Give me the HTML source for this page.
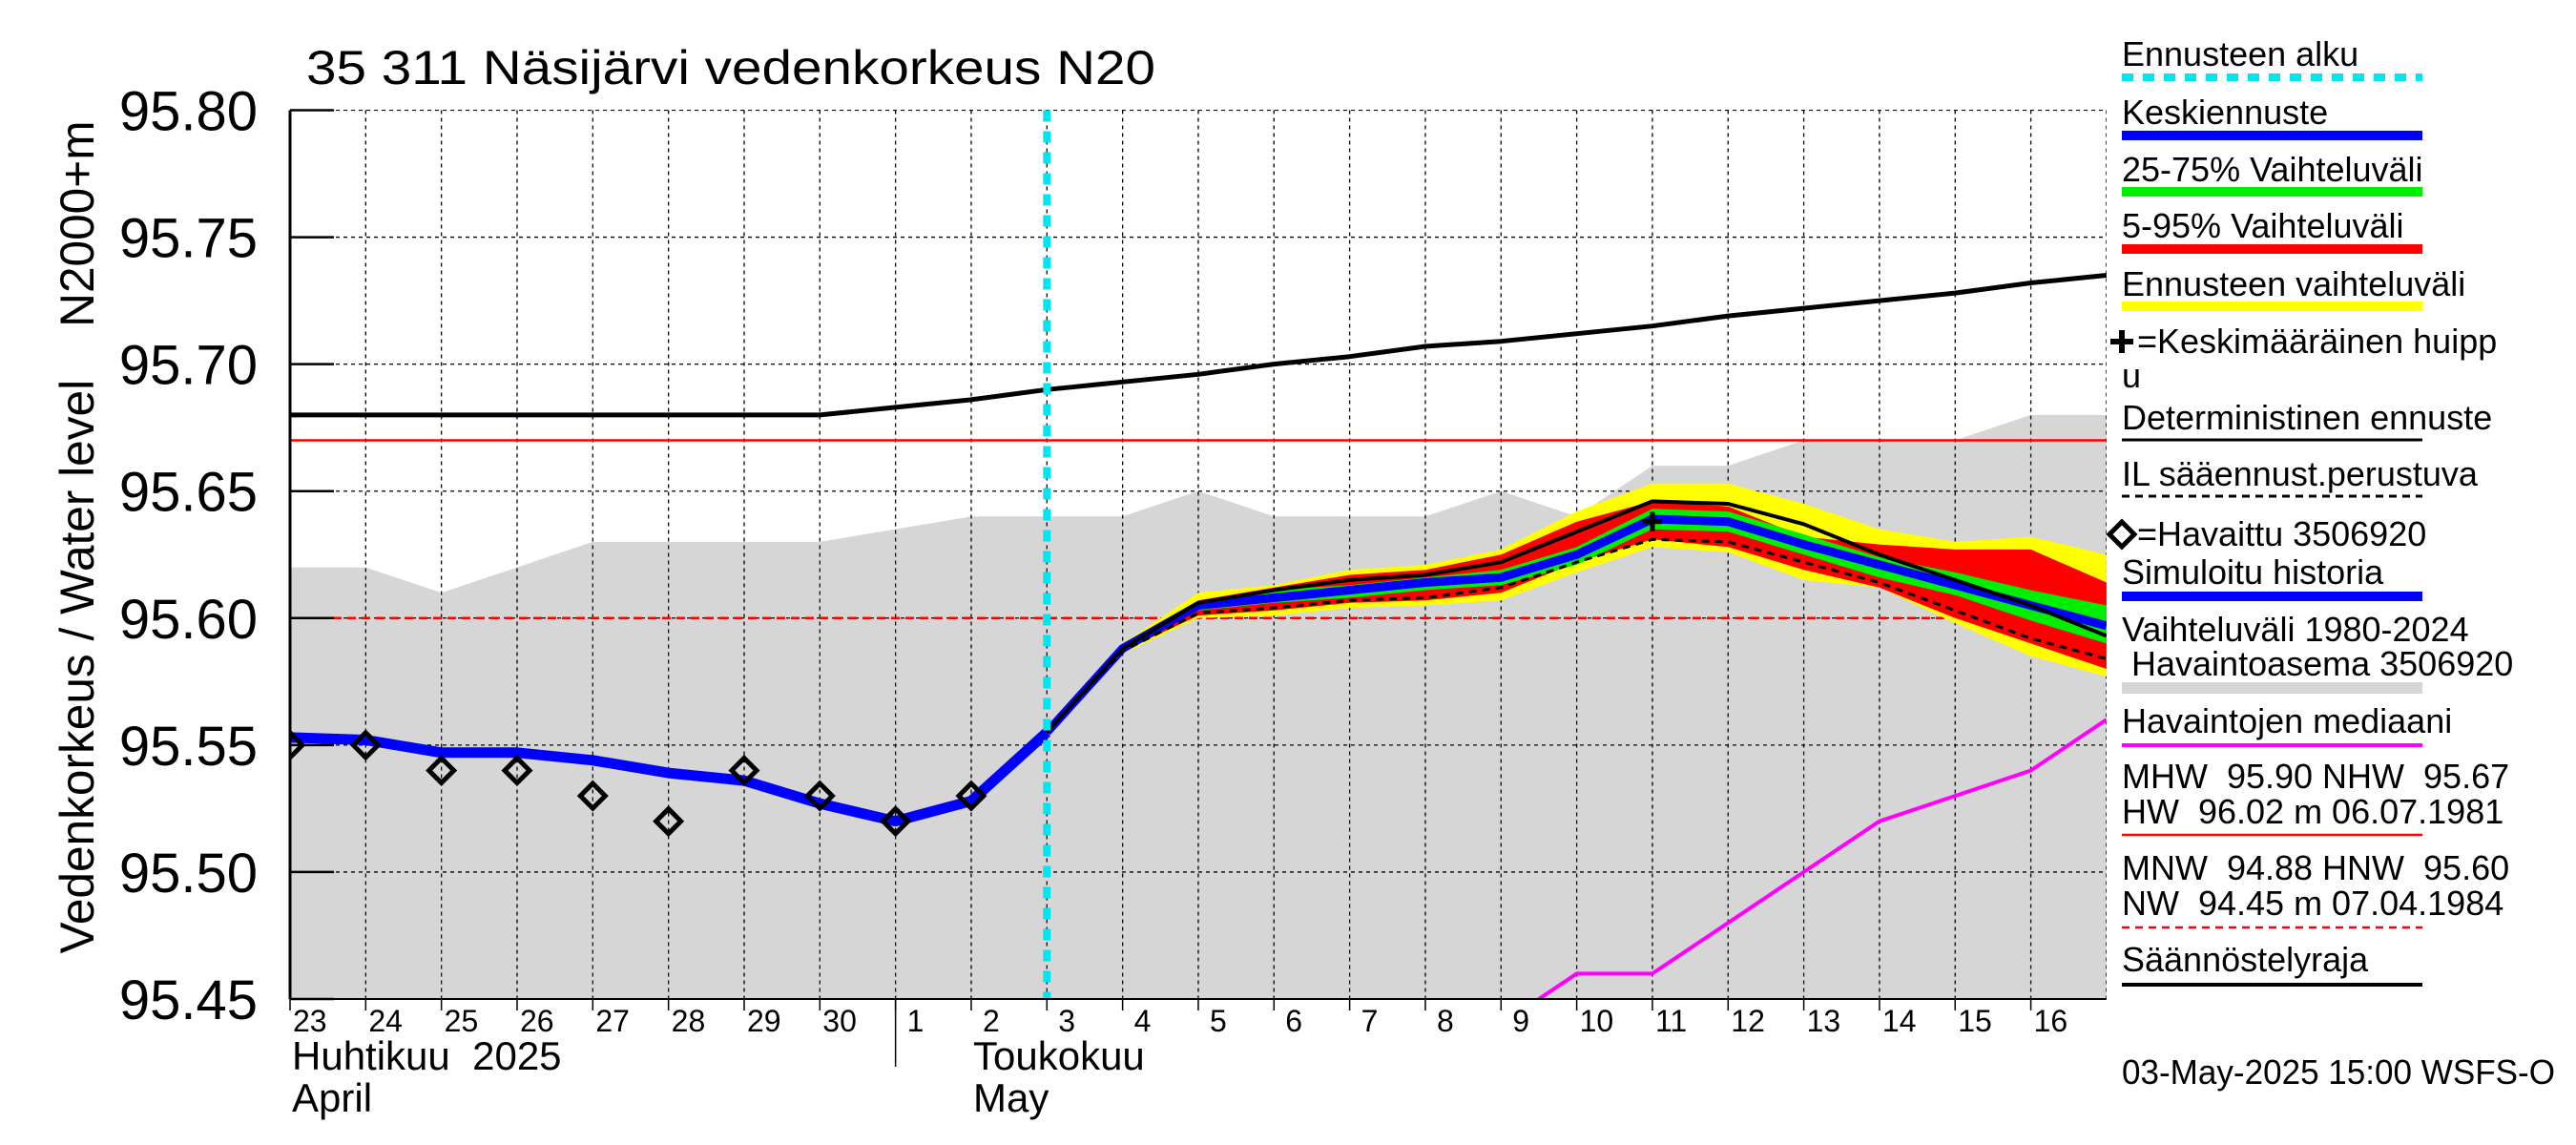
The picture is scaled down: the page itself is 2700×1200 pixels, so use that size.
<!DOCTYPE html>
<html><head><meta charset="utf-8"><style>
html,body{margin:0;padding:0;background:#fff;}
svg{display:block;font-family:"Liberation Sans",Arial,sans-serif;}
text{white-space:pre;}
</style></head><body>
<svg id="chart" width="2700" height="1200" viewBox="0 0 2700 1200" xmlns="http://www.w3.org/2000/svg">
<defs><clipPath id="plotclip"><rect x="304" y="115" width="1904" height="932"/></clipPath></defs>
<rect x="0" y="0" width="2700" height="1200" fill="#fff"/>
<g id="plot" clip-path="url(#plotclip)"></g>
<g id="axes"></g>
<g id="legend"></g>
</svg>
<script>
// ---- data ----
const dayLabels=["23","24","25","26","27","28","29","30","1","2","3","4","5","6","7","8","9","10","11","12","13","14","15","16"];
const yTicks=[95.45,95.50,95.55,95.60,95.65,95.70,95.75,95.80];
const yTickLabels=["95.45","95.50","95.55","95.60","95.65","95.70","95.75","95.80"];
const regLimit=[95.68,95.68,95.68,95.68,95.68,95.68,95.68,95.68,95.683,95.686,95.690,95.693,95.696,95.700,95.703,95.707,95.709,95.712,95.715,95.719,95.722,95.725,95.728,95.732,95.735];
const histMax=[95.62,95.62,95.61,95.62,95.63,95.63,95.63,95.63,95.635,95.64,95.64,95.64,95.65,95.64,95.64,95.64,95.65,95.64,95.66,95.66,95.67,95.67,95.67,95.68,95.68];
const obsMedian=[95.44,95.46,95.46,95.48,95.50,95.52,95.53,95.54,95.56];
const simHist=[95.553,95.552,95.547,95.547,95.544,95.539,95.536,95.527,95.520,95.528,95.555];
const observed=[95.55,95.55,95.54,95.54,95.53,95.52,95.54,95.53,95.52,95.53];
const fcMax=[95.555,95.590,95.610,95.613,95.619,95.621,95.627,95.642,95.653,95.653,95.645,95.635,95.630,95.632,95.625];
const fcMin=[95.555,95.586,95.600,95.601,95.604,95.605,95.607,95.618,95.628,95.626,95.615,95.612,95.598,95.585,95.577];
const p95=[95.555,95.589,95.607,95.612,95.617,95.619,95.625,95.638,95.646,95.644,95.632,95.629,95.627,95.627,95.614];
const p5=[95.555,95.587,95.601,95.603,95.606,95.607,95.610,95.622,95.631,95.628,95.619,95.612,95.600,95.590,95.580];
const p75=[95.555,95.589,95.606,95.611,95.613,95.616,95.619,95.628,95.643,95.642,95.633,95.624,95.618,95.611,95.605];
const p25=[95.555,95.587,95.603,95.606,95.608,95.611,95.613,95.621,95.635,95.634,95.625,95.616,95.609,95.599,95.590];
const fcMedian=[95.555,95.588,95.605,95.608,95.611,95.614,95.616,95.625,95.639,95.638,95.629,95.621,95.613,95.605,95.597];
const determ=[95.555,95.588,95.606,95.611,95.615,95.617,95.622,95.634,95.646,95.645,95.637,95.625,95.615,95.605,95.593];
const ilFc=[95.555,95.587,95.602,95.604,95.607,95.608,95.612,95.622,95.631,95.630,95.622,95.614,95.603,95.592,95.584];
const meanPeak=[18,95.638];
const hwLine=95.67, nwLine=95.60;
const fcStartDay=10, medianStartDay=16;

// ---- scales ----
const X0=304, DX=79.33, YT=115.5, YB=1047, V0=95.45, V1=95.80;
const x=d=>X0+d*DX;
const y=v=>YB-(v-V0)/(V1-V0)*(YB-YT);
const NS="http://www.w3.org/2000/svg";
function mk(tag,attrs,parent){const e=document.createElementNS(NS,tag);for(const k in attrs)e.setAttribute(k,attrs[k]);parent.appendChild(e);return e;}
const plot=document.getElementById('plot'),axes=document.getElementById('axes'),leg=document.getElementById('legend');
const pts=(arr,start)=>arr.map((v,i)=>x(start+i).toFixed(1)+","+y(v).toFixed(1));
function band(up,lo,start,fill,name){
  const p=pts(up,start).concat(pts(lo,start).reverse());
  const e=mk('polygon',{points:p.join(' '),fill:fill},plot);
  
  
}
function line(arr,start,stroke,w,dash,name,par){
  const e=mk('polyline',{points:pts(arr,start).join(' '),fill:'none',stroke:stroke,'stroke-width':w,'stroke-linejoin':'round'},par||plot);
  if(dash)e.setAttribute('stroke-dasharray',dash);
  
  
}
{const p=pts(histMax,0);p.push(x(24)+","+YB,x(0)+","+YB);
 const e=mk('polygon',{points:p.join(' '),fill:'#d6d6d6'},plot);
 
 }
for(let d=0;d<=24;d++){const g=mk('line',{x1:x(d),x2:x(d),y1:YT,y2:YB,stroke:'#000','stroke-width':1.3,'stroke-dasharray':'4,4'},plot);
 
 }
yTicks.forEach(v=>{const g=mk('line',{x1:X0,x2:x(24),y1:y(v),y2:y(v),stroke:'#000','stroke-width':1.3,'stroke-dasharray':'4,4'},plot);
 
 });
{let e=mk('line',{x1:X0,x2:x(24),y1:y(hwLine),y2:y(hwLine),stroke:'#f00','stroke-width':2.5},plot);
 
 
 e=mk('line',{x1:X0,x2:x(24),y1:y(nwLine),y2:y(nwLine),stroke:'#f00','stroke-width':2.5,'stroke-dasharray':'9,6'},plot);
 
 }
line(regLimit,0,'#000',5,null,'regulation-limit-line');
line(obsMedian,medianStartDay,'#ff00ff',4,null,'observation-median-line');
band(fcMax,fcMin,fcStartDay,'#ffff00','forecast-range-band');
band(p95,p5,fcStartDay,'#ff0000','p5-95-band');
band(p75,p25,fcStartDay,'#00ee00','p25-75-band');
line(fcMedian,fcStartDay,'#0000ff',9,null,'median-forecast-line');
line(simHist,0,'#0000ff',11,null,'simulated-history-line');
line(determ,fcStartDay,'#000',4,null,'deterministic-forecast-line');
line(ilFc,fcStartDay,'#000',3,'8,6','il-forecast-line');
observed.forEach((v,i)=>{const cx=x(i),cy=y(v),r=13;
 const e=mk('polygon',{points:`${cx},${cy-r} ${cx+r},${cy} ${cx},${cy+r} ${cx-r},${cy}`,fill:'none',stroke:'#000','stroke-width':5},plot);
 
 });
{const cx=x(meanPeak[0]),cy=y(meanPeak[1]);
 const e=mk('path',{d:`M${cx-10},${cy}H${cx+10}M${cx},${cy-10}V${cy+10}`,stroke:'#000','stroke-width':5},plot);
 
 }
{const e=mk('line',{x1:x(fcStartDay),x2:x(fcStartDay),y1:YT,y2:YB,stroke:'#00e5ee','stroke-width':8,'stroke-dasharray':'12,10'},plot);
 
 }
{let e=mk('line',{x1:X0,x2:X0,y1:YT,y2:YB,stroke:'#000','stroke-width':3},axes);
 
 
 e=mk('line',{x1:X0,x2:x(24),y1:YB,y2:YB,stroke:'#000','stroke-width':2},axes);
 
 }
yTicks.forEach((v,i)=>{
 let t=mk('line',{x1:X0,x2:X0+46,y1:y(v),y2:y(v),stroke:'#000','stroke-width':2.5},axes);
 
 
 const l=mk('text',{x:270,y:y(v)+21,'text-anchor':'end','font-size':58},axes);l.textContent=yTickLabels[i];
 
 });
dayLabels.forEach((s,d)=>{
 const t=mk('line',{x1:x(d),x2:x(d),y1:YB,y2:YB+12,stroke:'#000','stroke-width':1.5},axes);
 
 
 const l=mk('text',{x:x(d)+(s.length>1?3:12),y:1081,'font-size':32},axes);l.textContent=s;
 
 });
{const e=mk('line',{x1:x(8),x2:x(8),y1:YB,y2:1118,stroke:'#000','stroke-width':1.5},axes);
 
 }
function txt(s,xx,yy,fs,name,extra,par){const t=mk('text',Object.assign({x:xx,y:yy,'font-size':fs},extra||{}),par||axes);t.textContent=s;
 
 return t;}
txt("Huhtikuu  2025",306,1121,42,'month-label-fi');
txt("April",306,1165,42,'month-label-en');
txt("Toukokuu",1020,1121,42,'month-label-fi-may');
txt("May",1020,1165,42,'month-label-en-may');
txt("35 311 Näsijärvi vedenkorkeus N20",321,88,50,'chart-title',{textLength:890,lengthAdjust:'spacingAndGlyphs'});
txt("Vedenkorkeus / Water level    N2000+m",0,0,50,'y-axis-title',{transform:'translate(98,563) rotate(-90)','text-anchor':'middle',textLength:873,lengthAdjust:'spacingAndGlyphs'});
const LX=2224, LE=2539;
function lt(s,yy,name){return txt(s,LX,yy,36,name,null,leg);}
function ll(yy,col,w,dash,name){const e=mk('line',{x1:LX,x2:LE,y1:yy,y2:yy,stroke:col,'stroke-width':w},leg);if(dash)e.setAttribute('stroke-dasharray',dash);
 
 }
lt("Ennusteen alku",69,'legend-forecast-start');ll(81,'#00e5ee',8,'12,10','legend-forecast-start-swatch');
lt("Keskiennuste",130,'legend-median');ll(142,'#0000ff',10,null,'legend-median-swatch');
lt("25-75% Vaihteluväli",190,'legend-p25-75');ll(201,'#00ee00',10,null,'legend-p25-75-swatch');
lt("5-95% Vaihteluväli",249,'legend-p5-95');ll(261,'#ff0000',10,null,'legend-p5-95-swatch');
lt("Ennusteen vaihteluväli",310,'legend-forecast-range');ll(321,'#ffff00',10,null,'legend-forecast-range-swatch');
txt("=Keskimääräinen huipp",LX+16,370,36,'legend-mean-peak',null,leg);
{const e=mk('path',{d:`M${LX-12},358H${LX+12}M${LX},346V370`,stroke:'#000','stroke-width':6},leg);
 
 }
lt("u",406,'legend-mean-peak-wrap');
lt("Deterministinen ennuste",450,'legend-deterministic');ll(461,'#000',3,null,'legend-deterministic-swatch');
lt("IL sääennust.perustuva",509,'legend-il');ll(520,'#000',3,'8,6','legend-il-swatch');
{const e=mk('polygon',{points:`${LX},547 ${LX+13},560 ${LX},573 ${LX-13},560`,fill:'none',stroke:'#000','stroke-width':5},leg);
 
 }
txt("=Havaittu 3506920",LX+16,572,36,'legend-observed',null,leg);
lt("Simuloitu historia",612,'legend-simulated');ll(625,'#0000ff',10,null,'legend-simulated-swatch');
lt("Vaihteluväli 1980-2024",672,'legend-hist-range');
lt(" Havaintoasema 3506920",708,'legend-hist-station');ll(721,'#d6d6d6',12,null,'legend-hist-range-swatch');
lt("Havaintojen mediaani",768,'legend-obs-median');ll(781,'#ff00ff',4,null,'legend-obs-median-swatch');
lt("MHW  95.90 NHW  95.67",826,'legend-mhw');
lt("HW  96.02 m 06.07.1981",863,'legend-hw');ll(875,'#ff0000',2.5,null,'legend-hw-swatch');
lt("MNW  94.88 HNW  95.60",922,'legend-mnw');
lt("NW  94.45 m 07.04.1984",959,'legend-nw');ll(972,'#ff0000',2.5,'8,6','legend-nw-swatch');
lt("Säännöstelyraja",1018,'legend-regulation');ll(1032,'#000',4,null,'legend-regulation-swatch');
txt("03-May-2025 15:00 WSFS-O",LX,1136,36,'timestamp-footer',{textLength:454,lengthAdjust:'spacingAndGlyphs'},leg);
</script>
</body></html>
